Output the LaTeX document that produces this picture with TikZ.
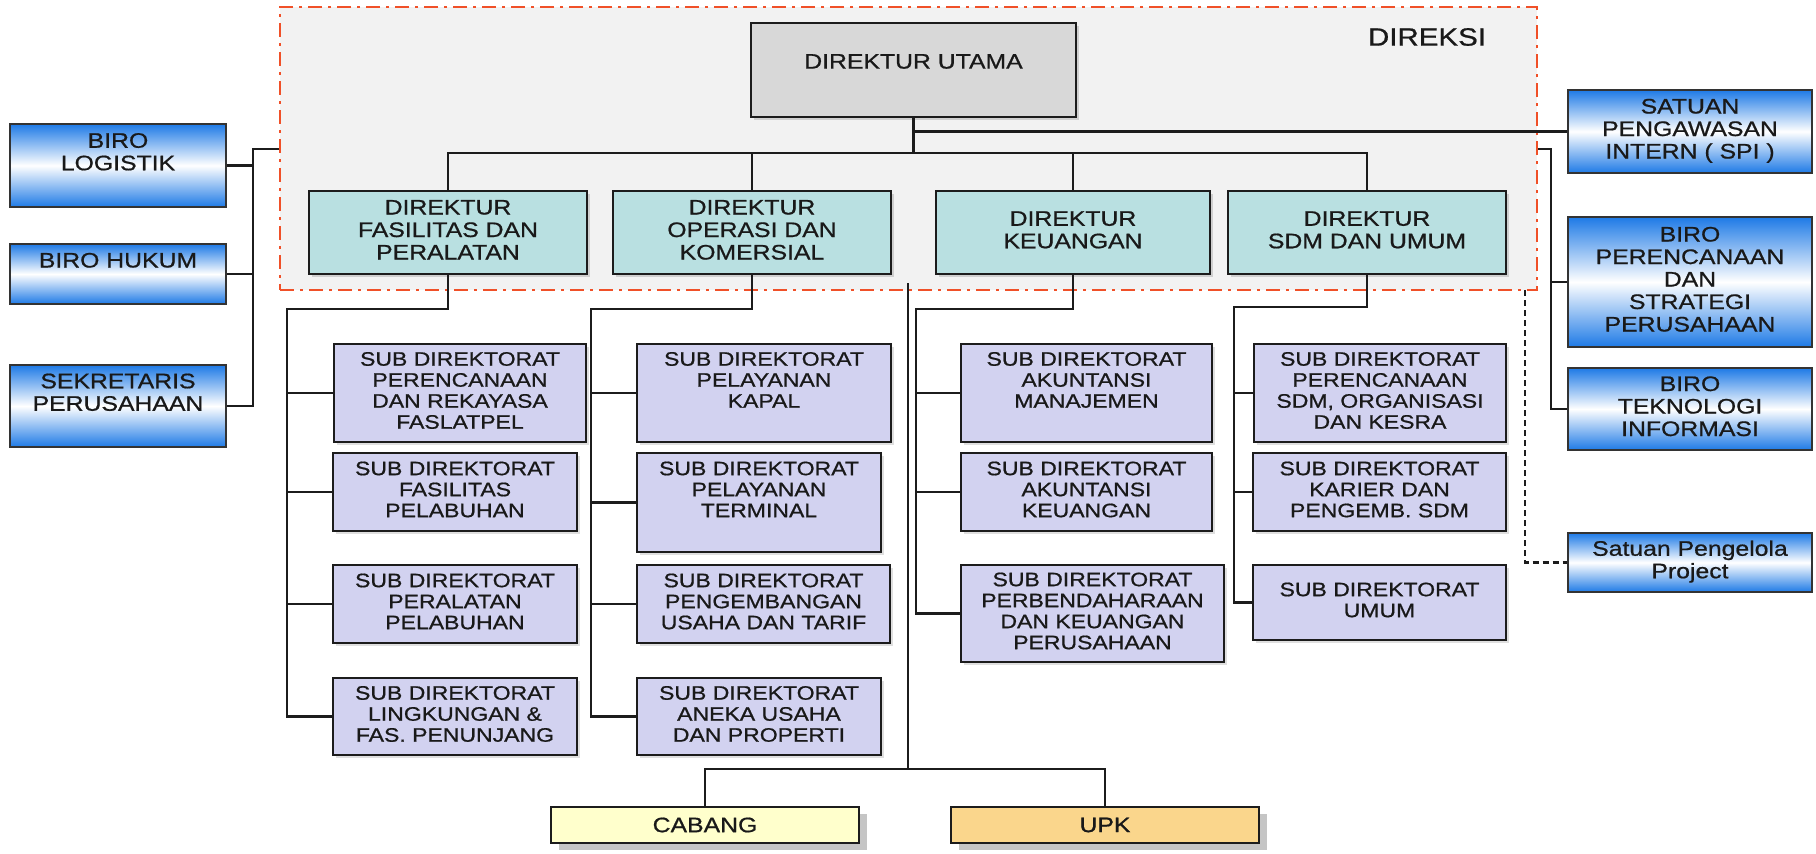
\documentclass[tikz,border=0pt]{standalone}
\usepackage{fontspec}
\setmainfont[FakeStretch=1.18, FakeBold=0.8]{Liberation Sans}
\usepackage{tikz}
\usetikzlibrary{positioning}
\usetikzlibrary{shadows}

\definecolor{utamagray}{RGB}{216,216,216}
\definecolor{dirteal}{RGB}{185,224,225}
\definecolor{sublav}{RGB}{210,210,240}
\definecolor{biroblue}{RGB}{30,122,230}
\definecolor{direksired}{RGB}{240,80,40}
\definecolor{direksibg}{RGB}{242,242,242}
\definecolor{cabangyel}{RGB}{255,255,204}
\definecolor{upkorange}{RGB}{250,214,140}
\definecolor{linegray}{RGB}{28,28,28}

\tikzset{
    box/.style={
           rectangle,
           draw=linegray, line width=2.2pt,
           inner sep=2pt,
           text centered,
           text=black!90,
           },
    utamabox/.style={box, fill=utamagray,
           drop shadow={shadow xshift=3pt, shadow yshift=-3pt, opacity=.3},
           font=\fontsize{21}{23}\selectfont},
    direktur/.style={box, fill=dirteal, minimum height=83pt,
           drop shadow={shadow xshift=3pt, shadow yshift=-3pt, opacity=.3},
           font=\fontsize{21}{22.5}\selectfont},
    subdir/.style={box, fill=sublav, minimum height=78pt,
           drop shadow={shadow xshift=3pt, shadow yshift=-3pt, opacity=.25},
           font=\fontsize{19.5}{21}\selectfont},
    biro/.style={box, draw=black!80, top color=biroblue, bottom color=biroblue,
           middle color=white, font=\fontsize{21}{22.5}\selectfont},
    unit/.style={box, minimum width=308pt, minimum height=36pt,
           drop shadow={shadow xshift=8pt, shadow yshift=-7pt, fill=black!45},
           font=\fontsize{21}{23}\selectfont},
    link/.style={draw=linegray, line width=2.6pt},
}

\begin{document}
\begin{tikzpicture}[x=1pt, y=-1pt]

 \useasboundingbox[fill=white] (0,0) rectangle (1816,854);

 % DIREKSI frame, drawn first as background
 \node[draw=direksired, fill=direksibg, line width=2.8pt,
  dash pattern=on 14pt off 6pt on 3pt off 6pt,
  minimum width=1257pt, minimum height=283pt] (direksi) at (908.5,148.5) {};
 \node[font=\fontsize{25}{27}\selectfont, text=black!90] (direksilabel) at (1427,37) {DIREKSI};

 % DIREKTUR UTAMA
 \node[utamabox, minimum width=325pt, minimum height=94pt] (utama) at (913.5,70)
 {\begin{tabular}{@{}c@{}}
  DIREKTUR UTAMA\\[12pt]
 \end{tabular}};

 % the four direktur
 \node[direktur, minimum width=278pt] (fasilitas) at (448,232.5)
 {\begin{tabular}{@{}c@{}}
  DIREKTUR\\ FASILITAS DAN\\ PERALATAN
 \end{tabular}};
 \node[direktur, minimum width=278pt] (operasi) at (752,232.5)
 {\begin{tabular}{@{}c@{}}
  DIREKTUR\\ OPERASI DAN\\ KOMERSIAL
 \end{tabular}};
 \node[direktur, minimum width=274pt] (keuangan) at (1073,232.5)
 {\begin{tabular}{@{}c@{}}
  DIREKTUR\\ KEUANGAN
 \end{tabular}};
 \node[direktur, minimum width=278pt] (sdm) at (1367,232.5)
 {\begin{tabular}{@{}c@{}}
  DIREKTUR\\ SDM DAN UMUM
 \end{tabular}};

 % biro on the left
 \node[biro, minimum width=216pt, minimum height=83pt] (logistik) at (118,165.5)
 {\begin{tabular}{@{}c@{}}
  BIRO\\ LOGISTIK\\[22pt]
 \end{tabular}};
 \node[biro, minimum width=216pt, minimum height=60pt] (hukum) at (118,274)
 {\begin{tabular}{@{}c@{}}
  BIRO HUKUM\\[22pt]
 \end{tabular}};
 \node[biro, minimum width=216pt, minimum height=82pt] (sekretaris) at (118,406)
 {\begin{tabular}{@{}c@{}}
  SEKRETARIS\\ PERUSAHAAN\\[22pt]
 \end{tabular}};

 % biro on the right
 \node[biro, minimum width=244pt, minimum height=83pt] (spi) at (1690,131.5)
 {\begin{tabular}{@{}c@{}}
  SATUAN\\ PENGAWASAN\\ INTERN ( SPI )
 \end{tabular}};
 \node[biro, minimum width=244pt, minimum height=130pt] (perencanaan) at (1690,282)
 {\begin{tabular}{@{}c@{}}
  BIRO\\ PERENCANAAN\\ DAN\\ STRATEGI\\ PERUSAHAAN
 \end{tabular}};
 \node[biro, minimum width=244pt, minimum height=82pt] (teknologi) at (1690,409)
 {\begin{tabular}{@{}c@{}}
  BIRO\\ TEKNOLOGI\\ INFORMASI
 \end{tabular}};
 \node[biro, minimum width=244pt, minimum height=59pt] (project) at (1690,562.5)
 {\begin{tabular}{@{}c@{}}
  Satuan Pengelola\\ Project
 \end{tabular}};

 % sub direktorat under FASILITAS DAN PERALATAN
 \node[subdir, minimum width=252pt, minimum height=98pt] (s11) at (460,393)
 {\begin{tabular}{@{}c@{}}
  SUB DIREKTORAT\\ PERENCANAAN\\ DAN REKAYASA\\ FASLATPEL
 \end{tabular}};
 \node[subdir, minimum width=244pt] (s12) at (455,492)
 {\begin{tabular}{@{}c@{}}
  SUB DIREKTORAT\\ FASILITAS\\ PELABUHAN
 \end{tabular}};
 \node[subdir, minimum width=244pt] (s13) at (455,604)
 {\begin{tabular}{@{}c@{}}
  SUB DIREKTORAT\\ PERALATAN\\ PELABUHAN
 \end{tabular}};
 \node[subdir, minimum width=244pt, minimum height=77pt] (s14) at (455,716.5)
 {\begin{tabular}{@{}c@{}}
  SUB DIREKTORAT\\ LINGKUNGAN \&\\ FAS. PENUNJANG
 \end{tabular}};

 % sub direktorat under OPERASI DAN KOMERSIAL
 \node[subdir, minimum width=254pt, minimum height=98pt] (s21) at (764,393)
 {\begin{tabular}{@{}c@{}}
  SUB DIREKTORAT\\ PELAYANAN\\ KAPAL\\ {}
 \end{tabular}};
 \node[subdir, minimum width=244pt, minimum height=99pt] (s22) at (759,502.5)
 {\begin{tabular}{@{}c@{}}
  SUB DIREKTORAT\\ PELAYANAN\\ TERMINAL\\ {}
 \end{tabular}};
 \node[subdir, minimum width=253pt] (s23) at (763.5,604)
 {\begin{tabular}{@{}c@{}}
  SUB DIREKTORAT\\ PENGEMBANGAN\\ USAHA DAN TARIF
 \end{tabular}};
 \node[subdir, minimum width=244pt, minimum height=77pt] (s24) at (759,716.5)
 {\begin{tabular}{@{}c@{}}
  SUB DIREKTORAT\\ ANEKA USAHA\\ DAN PROPERTI
 \end{tabular}};

 % sub direktorat under KEUANGAN
 \node[subdir, minimum width=251pt, minimum height=98pt] (s31) at (1086.5,393)
 {\begin{tabular}{@{}c@{}}
  SUB DIREKTORAT\\ AKUNTANSI\\ MANAJEMEN\\ {}
 \end{tabular}};
 \node[subdir, minimum width=251pt] (s32) at (1086.5,492)
 {\begin{tabular}{@{}c@{}}
  SUB DIREKTORAT\\ AKUNTANSI\\ KEUANGAN
 \end{tabular}};
 \node[subdir, minimum width=263pt, minimum height=97pt] (s33) at (1092.5,613.5)
 {\begin{tabular}{@{}c@{}}
  SUB DIREKTORAT\\ PERBENDAHARAAN\\ DAN KEUANGAN\\ PERUSAHAAN
 \end{tabular}};

 % sub direktorat under SDM DAN UMUM
 \node[subdir, minimum width=252pt, minimum height=98pt] (s41) at (1380,393)
 {\begin{tabular}{@{}c@{}}
  SUB DIREKTORAT\\ PERENCANAAN\\ SDM, ORGANISASI\\ DAN KESRA
 \end{tabular}};
 \node[subdir, minimum width=253pt] (s42) at (1379.5,492)
 {\begin{tabular}{@{}c@{}}
  SUB DIREKTORAT\\ KARIER DAN\\ PENGEMB. SDM
 \end{tabular}};
 \node[subdir, minimum width=253pt, minimum height=75pt] (s43) at (1379.5,602.5)
 {\begin{tabular}{@{}c@{}}
  SUB DIREKTORAT\\ UMUM
 \end{tabular}};

 % CABANG and UPK
 \node[unit, fill=cabangyel] (cabang) at (705,825) {CABANG};
 \node[unit, fill=upkorange] (upk) at (1105,825) {UPK};

 % bus points
 \coordinate (branch) at (913.5,153);
 \coordinate (lbus) at (253,149);
 \coordinate (rbus) at (1551,149);
 \coordinate (bus1) at (287,309);
 \coordinate (bus2) at (591,309);
 \coordinate (bus3) at (916,309);
 \coordinate (bus4) at (1234,307);
 \coordinate (mid) at (908,283);
 \coordinate (unitbus) at (908,769);
 \coordinate (pdash) at (1525,290);

 % DIREKTUR UTAMA to the direktur and to SPI
 \draw[link] (utama.south) -- (branch);
 \draw[link] (fasilitas.north) |- (branch) -| (sdm.north);
 \draw[link] (operasi.north) -- (operasi.north |- branch);
 \draw[link] (keuangan.north) -- (keuangan.north |- branch);
 \draw[link] (utama.south |- spi.west) -- (spi.west);

 % biro left and right of DIREKSI
 \draw[link] (direksi.west |- lbus) -- (lbus) |- (sekretaris.east);
 \draw[link] (logistik.east) -- (logistik.east -| lbus);
 \draw[link] (hukum.east) -- (hukum.east -| lbus);
 \draw[link] (direksi.east |- rbus) -- (rbus) |- (teknologi.west);
 \draw[link] (perencanaan.west) -- (perencanaan.west -| rbus);
 \draw[link, dash pattern=on 6pt off 4pt] (pdash) |- (project.west);

 % direktur to their sub direktorat
 \draw[link] (fasilitas.south) |- (bus1) |- (s14.west);
 \foreach \s in {s11,s12,s13}
  \draw[link] (\s.west) -- (\s.west -| bus1);
 \draw[link] (operasi.south) |- (bus2) |- (s24.west);
 \foreach \s in {s21,s22,s23}
  \draw[link] (\s.west) -- (\s.west -| bus2);
 \draw[link] (keuangan.south) |- (bus3) |- (s33.west);
 \foreach \s in {s31,s32}
  \draw[link] (\s.west) -- (\s.west -| bus3);
 \draw[link] (sdm.south) |- (bus4) |- (s43.west);
 \foreach \s in {s41,s42}
  \draw[link] (\s.west) -- (\s.west -| bus4);

 % DIREKSI down to CABANG and UPK
 \draw[link] (mid) -- (unitbus);
 \draw[link] (cabang.north) |- (unitbus) -| (upk.north);

\end{tikzpicture}
\end{document}
